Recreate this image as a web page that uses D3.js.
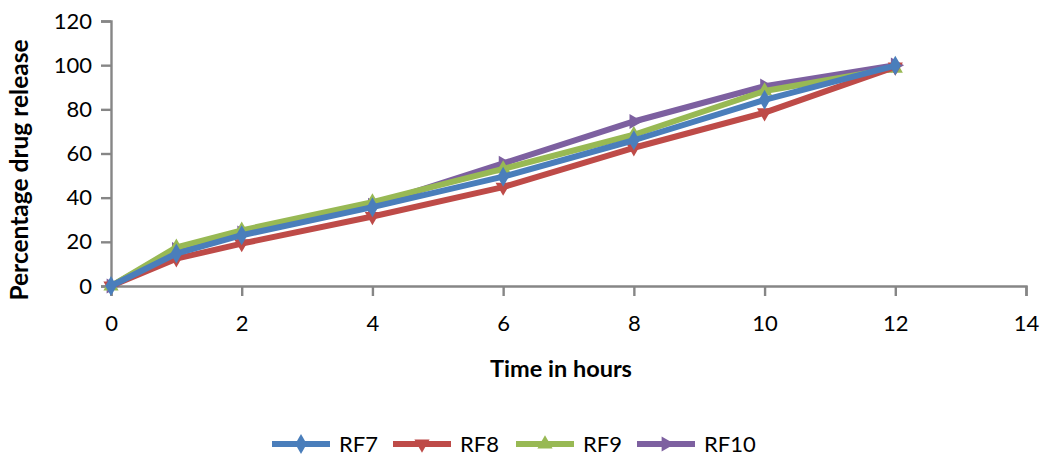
<!DOCTYPE html>
<html>
<head>
<meta charset="utf-8">
<script src="https://cdn.jsdelivr.net/npm/d3@7"></script>
<style>
  body { margin: 0; background: #fff; }
  text { font-family: Lato, "Open Sans", sans-serif; fill: #000; }
</style>
</head>
<body>
<svg id="chart" width="1050" height="459"></svg>
<script>
// hours sampled
var hours = [0, 1, 2, 4, 6, 8, 10, 12];

// percentage drug release per formulation
var rf7 = [0, 14.7, 23, 35.7, 49.5, 66, 84.3, 99.8];
var rf8 = [0, 12.4, 19.2, 31.5, 44.8, 62.6, 78.5, 99.2];
var rf9 = [0, 17.5, 25.2, 38, 53, 68.5, 88.3, 98.6];
var rf10 = [0, 16.5, 24, 36.5, 55.5, 74.5, 90.5, 100];

var seriesNames = ["RF7", "RF8", "RF9", "RF10"];
var seriesValues = [rf7, rf8, rf9, rf10];
var seriesColors = ["#4A7EBB", "#BE4B48", "#98B954", "#7D60A0"];

var xTicks = [0, 2, 4, 6, 8, 10, 12, 14];
var yTicks = [0, 20, 40, 60, 80, 100, 120];

var svg = d3.select("#chart");

var x = d3.scaleLinear().domain([0, 14]).range([111, 1026]);
var y = d3.scaleLinear().domain([0, 120]).range([286, 21]);

var axisColor = "#868686";

// y axis
var yAxis = svg.append("g")
    .attr("transform", "translate(" + x(0) + ",0)")
    .call(d3.axisLeft(y).tickValues(yTicks).tickSize(10).tickPadding(9));
yAxis.selectAll("text").attr("font-size", 22);

// x axis
var xAxis = svg.append("g")
    .attr("transform", "translate(0," + y(0) + ")")
    .call(d3.axisBottom(x).tickValues(xTicks).tickSize(10).tickPadding(19));
xAxis.selectAll("text").attr("font-size", 22);

svg.selectAll(".domain, .tick line")
    .attr("stroke", axisColor)
    .attr("stroke-width", 2.4);
svg.selectAll(".tick text").attr("fill", "#000");

// titles
svg.append("text")
    .attr("transform", "translate(28," + 170 + ") rotate(-90)")
    .attr("text-anchor", "middle")
    .attr("font-size", 24.5)
    .attr("font-weight", "bold")
    .text("Percentage drug release");

svg.append("text")
    .attr("x", 561)
    .attr("y", 377)
    .attr("text-anchor", "middle")
    .attr("font-size", 23.5)
    .attr("font-weight", "bold")
    .text("Time in hours");

// marker shapes
var symbols = [
    d3.symbol().type(d3.symbolDiamond).size(115),
    d3.symbol().type(d3.symbolTriangle).size(100),
    d3.symbol().type(d3.symbolTriangle).size(100),
    d3.symbol().type(d3.symbolTriangle).size(100)
];
var rotations = [0, 180, 0, 90];

function drawMarker(g, i, px, py) {
    g.append("path")
        .attr("d", symbols[i]())
        .attr("transform", "translate(" + px + "," + py + ") rotate(" + rotations[i] + ")")
        .attr("fill", seriesColors[i]);
}

var line = d3.line()
    .x(function (d, i) { return x(hours[i]); })
    .y(function (d) { return y(d); });

// draw last series first so RF7 ends up on top
for (var s = seriesValues.length - 1; s >= 0; s--) {
    var g = svg.append("g");
    g.append("path")
        .datum(seriesValues[s])
        .attr("d", line)
        .attr("fill", "none")
        .attr("stroke", seriesColors[s])
        .attr("stroke-width", 6)
        .attr("stroke-linejoin", "round");
    seriesValues[s].forEach(function (v, i) {
        drawMarker(g, s, x(hours[i]), y(v));
    });
}

// legend
var legendX = [272, 393, 516, 637];
var legendY = 444;
seriesNames.forEach(function (name, i) {
    var g = svg.append("g");
    g.append("line")
        .attr("x1", legendX[i]).attr("x2", legendX[i] + 58)
        .attr("y1", legendY).attr("y2", legendY)
        .attr("stroke", seriesColors[i])
        .attr("stroke-width", 6);
    drawMarker(g, i, legendX[i] + 29, legendY);
    g.append("text")
        .attr("x", legendX[i] + 67)
        .attr("y", legendY + 8)
        .attr("font-size", 22)
        .text(name);
});
</script>
</body>
</html>
